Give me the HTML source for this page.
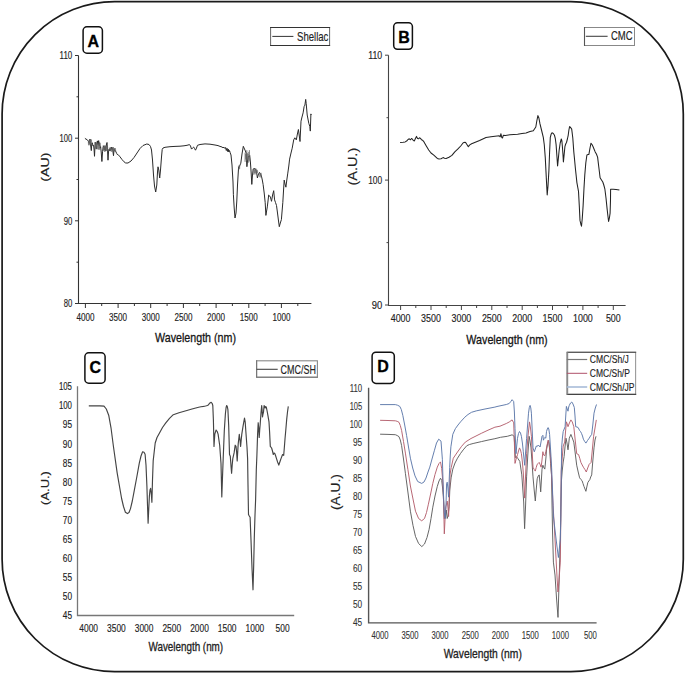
<!DOCTYPE html>
<html><head><meta charset="utf-8"><title>FTIR spectra</title>
<style>
html,body{margin:0;padding:0;background:#fff;}
svg{display:block;font-family:"Liberation Sans", sans-serif;}
</style></head>
<body>
<svg width="685" height="674" viewBox="0 0 685 674">
<rect width="685" height="674" fill="#fff"/>
<rect x="2.1" y="1.6" width="681.2" height="670.1" rx="112.5" ry="112.5" fill="none" stroke="#1a1a1a" stroke-width="1.7"/>
<rect x="83.1" y="26.8" width="19.3" height="26.4" rx="3.8" ry="3.8" fill="#fff" stroke="#111" stroke-width="1.5"/>
<text x="93.4" y="46.6" font-size="16" font-weight="bold" text-anchor="middle" fill="#000" stroke="#000" stroke-width="0.3">A</text>
<rect x="393.7" y="22.8" width="18.7" height="26.5" rx="3.8" ry="3.8" fill="#fff" stroke="#111" stroke-width="1.5"/>
<text x="404.1" y="43.0" font-size="16" font-weight="bold" text-anchor="middle" fill="#000" stroke="#000" stroke-width="0.3">B</text>
<rect x="84.9" y="352.8" width="20.2" height="30.4" rx="3.8" ry="3.8" fill="#fff" stroke="#111" stroke-width="1.5"/>
<text x="95.2" y="373.1" font-size="16" font-weight="bold" text-anchor="middle" fill="#000" stroke="#000" stroke-width="0.3">C</text>
<rect x="372.1" y="352.2" width="22.2" height="31.2" rx="3.8" ry="3.8" fill="#fff" stroke="#111" stroke-width="1.5"/>
<text x="383.1" y="372.4" font-size="16" font-weight="bold" text-anchor="middle" fill="#000" stroke="#000" stroke-width="0.3">D</text>
<path d="M78.5,55.5 V303.5 H311.4" fill="none" stroke="#333" stroke-width="1.1"/>
<path d="M75.0,55.5H78.5M75.0,138.2H78.5M75.0,220.8H78.5M75.0,303.5H78.5M76.5,96.8H78.5M76.5,179.5H78.5M76.5,262.2H78.5M85.4,303.5V308.0M118.1,303.5V308.0M150.7,303.5V308.0M183.4,303.5V308.0M216.1,303.5V308.0M248.8,303.5V308.0M281.4,303.5V308.0M101.7,303.5V306.0M134.4,303.5V306.0M167.1,303.5V306.0M199.7,303.5V306.0M232.4,303.5V306.0M265.1,303.5V306.0M297.8,303.5V306.0" stroke="#333" stroke-width="1"/>
<text x="72.3" y="59.2" font-size="10.4" text-anchor="end" fill="#222" stroke="#222" stroke-width="0.15" font-weight="normal" textLength="12.7" lengthAdjust="spacingAndGlyphs">110</text>
<text x="72.3" y="141.9" font-size="10.4" text-anchor="end" fill="#222" stroke="#222" stroke-width="0.15" font-weight="normal" textLength="12.7" lengthAdjust="spacingAndGlyphs">100</text>
<text x="72.3" y="224.5" font-size="10.4" text-anchor="end" fill="#222" stroke="#222" stroke-width="0.15" font-weight="normal" textLength="8.6" lengthAdjust="spacingAndGlyphs">90</text>
<text x="72.3" y="307.2" font-size="10.4" text-anchor="end" fill="#222" stroke="#222" stroke-width="0.15" font-weight="normal" textLength="8.6" lengthAdjust="spacingAndGlyphs">80</text>
<text x="85.4" y="321" font-size="11.3" text-anchor="middle" fill="#222" stroke="#222" stroke-width="0.15" font-weight="normal" textLength="18" lengthAdjust="spacingAndGlyphs">4000</text>
<text x="118.1" y="321" font-size="11.3" text-anchor="middle" fill="#222" stroke="#222" stroke-width="0.15" font-weight="normal" textLength="18" lengthAdjust="spacingAndGlyphs">3500</text>
<text x="150.7" y="321" font-size="11.3" text-anchor="middle" fill="#222" stroke="#222" stroke-width="0.15" font-weight="normal" textLength="18" lengthAdjust="spacingAndGlyphs">3000</text>
<text x="183.4" y="321" font-size="11.3" text-anchor="middle" fill="#222" stroke="#222" stroke-width="0.15" font-weight="normal" textLength="18" lengthAdjust="spacingAndGlyphs">2500</text>
<text x="216.1" y="321" font-size="11.3" text-anchor="middle" fill="#222" stroke="#222" stroke-width="0.15" font-weight="normal" textLength="18" lengthAdjust="spacingAndGlyphs">2000</text>
<text x="248.8" y="321" font-size="11.3" text-anchor="middle" fill="#222" stroke="#222" stroke-width="0.15" font-weight="normal" textLength="18" lengthAdjust="spacingAndGlyphs">1500</text>
<text x="281.4" y="321" font-size="11.3" text-anchor="middle" fill="#222" stroke="#222" stroke-width="0.15" font-weight="normal" textLength="18" lengthAdjust="spacingAndGlyphs">1000</text>
<text x="195.5" y="342.4" font-size="12.8" text-anchor="middle" fill="#151515" stroke="#151515" stroke-width="0.3" font-weight="normal" textLength="81" lengthAdjust="spacingAndGlyphs">Wavelength (nm)</text>
<text transform="translate(48.6,167.2) rotate(-90)" x="0" y="0" font-size="11.3" text-anchor="middle" fill="#222" stroke="#222" stroke-width="0.15" textLength="29.2" lengthAdjust="spacingAndGlyphs">(AU)</text>
<rect x="270.6" y="27.5" width="59" height="18" fill="#fff" stroke="#666" stroke-width="1"/>
<path d="M270.1,27.5H330.1M270.1,45.5H330.1" stroke="#333" stroke-width="1.1"/>
<path d="M272.3,36.4H293.4" stroke="#333" stroke-width="1"/>
<text x="297" y="41" font-size="12.8" text-anchor="start" fill="#222" stroke="#222" stroke-width="0.15" font-weight="normal" textLength="31.4" lengthAdjust="spacingAndGlyphs">Shellac</text>
<path d="M388.5,55.2 V305.5 H625.6" fill="none" stroke="#444" stroke-width="1.1"/>
<path d="M385.0,55.2H388.5M385.0,180.1H388.5M385.0,305.0H388.5M386.5,117.7H388.5M386.5,242.6H388.5M400.6,305.5V310.0M431.0,305.5V310.0M461.4,305.5V310.0M491.8,305.5V310.0M522.2,305.5V310.0M552.5,305.5V310.0M582.9,305.5V310.0M613.3,305.5V310.0M415.8,305.5V308.0M446.2,305.5V308.0M476.6,305.5V308.0M507.0,305.5V308.0M537.4,305.5V308.0M567.7,305.5V308.0M598.1,305.5V308.0" stroke="#444" stroke-width="1"/>
<text x="382.2" y="59.2" font-size="11.2" text-anchor="end" fill="#222" stroke="#222" stroke-width="0.15" font-weight="normal" textLength="14" lengthAdjust="spacingAndGlyphs">110</text>
<text x="382.2" y="184.1" font-size="11.2" text-anchor="end" fill="#222" stroke="#222" stroke-width="0.15" font-weight="normal" textLength="14" lengthAdjust="spacingAndGlyphs">100</text>
<text x="382.2" y="309.0" font-size="11.2" text-anchor="end" fill="#222" stroke="#222" stroke-width="0.15" font-weight="normal" textLength="10.5" lengthAdjust="spacingAndGlyphs">90</text>
<text x="400.6" y="322.4" font-size="11.4" text-anchor="middle" fill="#222" stroke="#222" stroke-width="0.15" font-weight="normal" textLength="19.8" lengthAdjust="spacingAndGlyphs">4000</text>
<text x="431.0" y="322.4" font-size="11.4" text-anchor="middle" fill="#222" stroke="#222" stroke-width="0.15" font-weight="normal" textLength="19.8" lengthAdjust="spacingAndGlyphs">3500</text>
<text x="461.4" y="322.4" font-size="11.4" text-anchor="middle" fill="#222" stroke="#222" stroke-width="0.15" font-weight="normal" textLength="19.8" lengthAdjust="spacingAndGlyphs">3000</text>
<text x="491.8" y="322.4" font-size="11.4" text-anchor="middle" fill="#222" stroke="#222" stroke-width="0.15" font-weight="normal" textLength="19.8" lengthAdjust="spacingAndGlyphs">2500</text>
<text x="522.2" y="322.4" font-size="11.4" text-anchor="middle" fill="#222" stroke="#222" stroke-width="0.15" font-weight="normal" textLength="19.8" lengthAdjust="spacingAndGlyphs">2000</text>
<text x="552.5" y="322.4" font-size="11.4" text-anchor="middle" fill="#222" stroke="#222" stroke-width="0.15" font-weight="normal" textLength="19.8" lengthAdjust="spacingAndGlyphs">1500</text>
<text x="582.9" y="322.4" font-size="11.4" text-anchor="middle" fill="#222" stroke="#222" stroke-width="0.15" font-weight="normal" textLength="19.8" lengthAdjust="spacingAndGlyphs">1000</text>
<text x="613.3" y="322.4" font-size="11.4" text-anchor="middle" fill="#222" stroke="#222" stroke-width="0.15" font-weight="normal" textLength="14.8" lengthAdjust="spacingAndGlyphs">500</text>
<text x="507" y="343.6" font-size="13" text-anchor="middle" fill="#151515" stroke="#151515" stroke-width="0.3" font-weight="normal" textLength="81.4" lengthAdjust="spacingAndGlyphs">Wavelength (nm)</text>
<text transform="translate(356.5,166.7) rotate(-90)" font-size="12.3" text-anchor="middle" fill="#222" stroke="#222" stroke-width="0.15" textLength="37.8" lengthAdjust="spacingAndGlyphs">(A.U.)</text>
<rect x="584.5" y="27.5" width="50" height="18" fill="#fff" stroke="#888" stroke-width="1"/>
<path d="M584.5,27V46" stroke="#555" stroke-width="1.1"/>
<path d="M585.8,36.3H607.6" stroke="#444" stroke-width="1.1"/>
<text x="610.9" y="40.1" font-size="12.4" text-anchor="start" fill="#222" stroke="#222" stroke-width="0.15" font-weight="normal" textLength="21.6" lengthAdjust="spacingAndGlyphs">CMC</text>
<path d="M77.5,386.2 V615.5 H294.2" fill="none" stroke="#777" stroke-width="1.3"/>
<text x="72" y="390.2" font-size="10.6" text-anchor="end" fill="#222" stroke="#222" stroke-width="0.15" font-weight="normal" textLength="13.1" lengthAdjust="spacingAndGlyphs">105</text>
<text x="72" y="409.3" font-size="10.6" text-anchor="end" fill="#222" stroke="#222" stroke-width="0.15" font-weight="normal" textLength="13.1" lengthAdjust="spacingAndGlyphs">100</text>
<text x="72" y="428.4" font-size="10.6" text-anchor="end" fill="#222" stroke="#222" stroke-width="0.15" font-weight="normal" textLength="9.2" lengthAdjust="spacingAndGlyphs">95</text>
<text x="72" y="447.5" font-size="10.6" text-anchor="end" fill="#222" stroke="#222" stroke-width="0.15" font-weight="normal" textLength="9.2" lengthAdjust="spacingAndGlyphs">90</text>
<text x="72" y="466.6" font-size="10.6" text-anchor="end" fill="#222" stroke="#222" stroke-width="0.15" font-weight="normal" textLength="9.2" lengthAdjust="spacingAndGlyphs">85</text>
<text x="72" y="485.7" font-size="10.6" text-anchor="end" fill="#222" stroke="#222" stroke-width="0.15" font-weight="normal" textLength="9.2" lengthAdjust="spacingAndGlyphs">80</text>
<text x="72" y="504.8" font-size="10.6" text-anchor="end" fill="#222" stroke="#222" stroke-width="0.15" font-weight="normal" textLength="9.2" lengthAdjust="spacingAndGlyphs">75</text>
<text x="72" y="523.9" font-size="10.6" text-anchor="end" fill="#222" stroke="#222" stroke-width="0.15" font-weight="normal" textLength="9.2" lengthAdjust="spacingAndGlyphs">70</text>
<text x="72" y="543.0" font-size="10.6" text-anchor="end" fill="#222" stroke="#222" stroke-width="0.15" font-weight="normal" textLength="9.2" lengthAdjust="spacingAndGlyphs">65</text>
<text x="72" y="562.1" font-size="10.6" text-anchor="end" fill="#222" stroke="#222" stroke-width="0.15" font-weight="normal" textLength="9.2" lengthAdjust="spacingAndGlyphs">60</text>
<text x="72" y="581.2" font-size="10.6" text-anchor="end" fill="#222" stroke="#222" stroke-width="0.15" font-weight="normal" textLength="9.2" lengthAdjust="spacingAndGlyphs">55</text>
<text x="72" y="600.3" font-size="10.6" text-anchor="end" fill="#222" stroke="#222" stroke-width="0.15" font-weight="normal" textLength="9.2" lengthAdjust="spacingAndGlyphs">50</text>
<text x="72" y="619.4" font-size="10.6" text-anchor="end" fill="#222" stroke="#222" stroke-width="0.15" font-weight="normal" textLength="9.2" lengthAdjust="spacingAndGlyphs">45</text>
<text x="88.7" y="631.9" font-size="10.8" text-anchor="middle" fill="#222" stroke="#222" stroke-width="0.15" font-weight="normal" textLength="18.7" lengthAdjust="spacingAndGlyphs">4000</text>
<text x="116.4" y="631.9" font-size="10.8" text-anchor="middle" fill="#222" stroke="#222" stroke-width="0.15" font-weight="normal" textLength="18.7" lengthAdjust="spacingAndGlyphs">3500</text>
<text x="144.1" y="631.9" font-size="10.8" text-anchor="middle" fill="#222" stroke="#222" stroke-width="0.15" font-weight="normal" textLength="18.7" lengthAdjust="spacingAndGlyphs">3000</text>
<text x="171.8" y="631.9" font-size="10.8" text-anchor="middle" fill="#222" stroke="#222" stroke-width="0.15" font-weight="normal" textLength="18.7" lengthAdjust="spacingAndGlyphs">2500</text>
<text x="199.5" y="631.9" font-size="10.8" text-anchor="middle" fill="#222" stroke="#222" stroke-width="0.15" font-weight="normal" textLength="18.7" lengthAdjust="spacingAndGlyphs">2000</text>
<text x="227.2" y="631.9" font-size="10.8" text-anchor="middle" fill="#222" stroke="#222" stroke-width="0.15" font-weight="normal" textLength="18.7" lengthAdjust="spacingAndGlyphs">1500</text>
<text x="254.9" y="631.9" font-size="10.8" text-anchor="middle" fill="#222" stroke="#222" stroke-width="0.15" font-weight="normal" textLength="18.7" lengthAdjust="spacingAndGlyphs">1000</text>
<text x="282.6" y="631.9" font-size="10.8" text-anchor="middle" fill="#222" stroke="#222" stroke-width="0.15" font-weight="normal" textLength="14" lengthAdjust="spacingAndGlyphs">500</text>
<text x="185.8" y="651.4" font-size="12.4" text-anchor="middle" fill="#222" stroke="#222" stroke-width="0.3" font-weight="normal" textLength="74.6" lengthAdjust="spacingAndGlyphs">Wavelength (nm)</text>
<text transform="translate(48.9,488) rotate(-90)" font-size="11.4" text-anchor="middle" fill="#222" stroke="#222" stroke-width="0.15" textLength="33.8" lengthAdjust="spacingAndGlyphs">(A.U.)</text>
<rect x="256.6" y="360.8" width="60.8" height="16.4" fill="#fff" stroke="#888" stroke-width="1.1"/>
<path d="M256.6,360.3V377.7M256.1,377.2H317.9" stroke="#777" stroke-width="1.1"/>
<path d="M256.6,369.3H277.7" stroke="#444" stroke-width="1.1"/>
<text x="280.6" y="373.5" font-size="12.6" text-anchor="start" fill="#222" stroke="#222" stroke-width="0.15" font-weight="normal" textLength="35.4" lengthAdjust="spacingAndGlyphs">CMC/SH</text>
<path d="M368.6,387.7 V622.9 H596.6" fill="none" stroke="#555" stroke-width="1.4"/>
<text x="362.2" y="391.6" font-size="10.4" text-anchor="end" fill="#333" stroke="#333" stroke-width="0.1" font-weight="normal" textLength="12.5" lengthAdjust="spacingAndGlyphs">110</text>
<text x="362.2" y="409.7" font-size="10.4" text-anchor="end" fill="#333" stroke="#333" stroke-width="0.1" font-weight="normal" textLength="12.5" lengthAdjust="spacingAndGlyphs">105</text>
<text x="362.2" y="427.7" font-size="10.4" text-anchor="end" fill="#333" stroke="#333" stroke-width="0.1" font-weight="normal" textLength="12.5" lengthAdjust="spacingAndGlyphs">100</text>
<text x="362.2" y="445.8" font-size="10.4" text-anchor="end" fill="#333" stroke="#333" stroke-width="0.1" font-weight="normal" textLength="9.2" lengthAdjust="spacingAndGlyphs">95</text>
<text x="362.2" y="463.8" font-size="10.4" text-anchor="end" fill="#333" stroke="#333" stroke-width="0.1" font-weight="normal" textLength="9.2" lengthAdjust="spacingAndGlyphs">90</text>
<text x="362.2" y="481.9" font-size="10.4" text-anchor="end" fill="#333" stroke="#333" stroke-width="0.1" font-weight="normal" textLength="9.2" lengthAdjust="spacingAndGlyphs">85</text>
<text x="362.2" y="500.0" font-size="10.4" text-anchor="end" fill="#333" stroke="#333" stroke-width="0.1" font-weight="normal" textLength="9.2" lengthAdjust="spacingAndGlyphs">80</text>
<text x="362.2" y="518.0" font-size="10.4" text-anchor="end" fill="#333" stroke="#333" stroke-width="0.1" font-weight="normal" textLength="9.2" lengthAdjust="spacingAndGlyphs">75</text>
<text x="362.2" y="536.1" font-size="10.4" text-anchor="end" fill="#333" stroke="#333" stroke-width="0.1" font-weight="normal" textLength="9.2" lengthAdjust="spacingAndGlyphs">70</text>
<text x="362.2" y="554.1" font-size="10.4" text-anchor="end" fill="#333" stroke="#333" stroke-width="0.1" font-weight="normal" textLength="9.2" lengthAdjust="spacingAndGlyphs">65</text>
<text x="362.2" y="572.2" font-size="10.4" text-anchor="end" fill="#333" stroke="#333" stroke-width="0.1" font-weight="normal" textLength="9.2" lengthAdjust="spacingAndGlyphs">60</text>
<text x="362.2" y="590.3" font-size="10.4" text-anchor="end" fill="#333" stroke="#333" stroke-width="0.1" font-weight="normal" textLength="9.2" lengthAdjust="spacingAndGlyphs">55</text>
<text x="362.2" y="608.3" font-size="10.4" text-anchor="end" fill="#333" stroke="#333" stroke-width="0.1" font-weight="normal" textLength="9.2" lengthAdjust="spacingAndGlyphs">50</text>
<text x="362.2" y="626.4" font-size="10.4" text-anchor="end" fill="#333" stroke="#333" stroke-width="0.1" font-weight="normal" textLength="9.2" lengthAdjust="spacingAndGlyphs">45</text>
<text x="380.0" y="639.2" font-size="10.8" text-anchor="middle" fill="#333" stroke="#333" stroke-width="0.1" font-weight="normal" textLength="17.1" lengthAdjust="spacingAndGlyphs">4000</text>
<text x="410.1" y="639.2" font-size="10.8" text-anchor="middle" fill="#333" stroke="#333" stroke-width="0.1" font-weight="normal" textLength="17.1" lengthAdjust="spacingAndGlyphs">3500</text>
<text x="440.1" y="639.2" font-size="10.8" text-anchor="middle" fill="#333" stroke="#333" stroke-width="0.1" font-weight="normal" textLength="17.1" lengthAdjust="spacingAndGlyphs">3000</text>
<text x="470.2" y="639.2" font-size="10.8" text-anchor="middle" fill="#333" stroke="#333" stroke-width="0.1" font-weight="normal" textLength="17.1" lengthAdjust="spacingAndGlyphs">2500</text>
<text x="500.2" y="639.2" font-size="10.8" text-anchor="middle" fill="#333" stroke="#333" stroke-width="0.1" font-weight="normal" textLength="17.1" lengthAdjust="spacingAndGlyphs">2000</text>
<text x="530.3" y="639.2" font-size="10.8" text-anchor="middle" fill="#333" stroke="#333" stroke-width="0.1" font-weight="normal" textLength="17.1" lengthAdjust="spacingAndGlyphs">1500</text>
<text x="560.4" y="639.2" font-size="10.8" text-anchor="middle" fill="#333" stroke="#333" stroke-width="0.1" font-weight="normal" textLength="17.1" lengthAdjust="spacingAndGlyphs">1000</text>
<text x="590.4" y="639.2" font-size="10.8" text-anchor="middle" fill="#333" stroke="#333" stroke-width="0.1" font-weight="normal" textLength="13" lengthAdjust="spacingAndGlyphs">500</text>
<text x="482.8" y="658" font-size="12.6" text-anchor="middle" fill="#222" stroke="#222" stroke-width="0.3" font-weight="normal" textLength="78.2" lengthAdjust="spacingAndGlyphs">Wavelength (nm)</text>
<text transform="translate(340,492.1) rotate(-90)" font-size="12" text-anchor="middle" fill="#222" stroke="#222" stroke-width="0.15" textLength="36" lengthAdjust="spacingAndGlyphs">(A.U.)</text>
<rect x="567.2" y="352.3" width="68.4" height="42.1" fill="#fff" stroke="#999" stroke-width="1.1"/>
<path d="M566.7,352.3H636.2M566.7,394.4H636.2" stroke="#444" stroke-width="1.1"/>
<path d="M567.3,352.3V394.4" stroke="#8a8a8a" stroke-width="1.8"/>
<path d="M566.8,359.5H587.2" stroke="#777" stroke-width="1.2"/>
<path d="M566.8,373.3H587.2" stroke="#b0506a" stroke-width="1"/>
<path d="M566.8,387H587.2" stroke="#a8bcd8" stroke-width="1.6"/>
<text x="589.8" y="363.4" font-size="11.2" text-anchor="start" fill="#222" stroke="#222" stroke-width="0.15" font-weight="normal" textLength="39.1" lengthAdjust="spacingAndGlyphs">CMC/Sh/J</text>
<text x="589.8" y="376.9" font-size="11.2" text-anchor="start" fill="#222" stroke="#222" stroke-width="0.15" font-weight="normal" textLength="40.1" lengthAdjust="spacingAndGlyphs">CMC/Sh/P</text>
<text x="589.8" y="391" font-size="11.2" text-anchor="start" fill="#222" stroke="#222" stroke-width="0.15" font-weight="normal" textLength="44.7" lengthAdjust="spacingAndGlyphs">CMC/Sh/JP</text>
<polyline points="84.9,138.3 86.0,139.2 87.1,139.6 88.4,141.2 89.2,143.5 90.0,139.0 90.6,145.0 91.3,150.6 91.8,143.0 92.3,142.8 93.0,146.0 93.6,145.4 94.1,150.0 94.5,156.3 95.2,142.2 95.8,145.4 96.3,149.0 96.8,143.0 97.4,140.9 98.0,145.0 98.7,140.6 99.2,146.0 99.7,142.8 100.2,148.0 100.6,146.7 101.2,152.0 101.9,161.5 102.6,151.2 103.2,147.0 103.8,145.7 104.3,150.0 105.1,146.4 105.7,151.0 106.3,145.0 107.0,142.5 107.5,150.0 108.0,160.2 108.5,152.0 109.0,149.3 109.5,151.0 109.9,148.6 110.5,150.5 111.2,147.0 111.8,149.5 112.5,147.7 113.0,152.0 113.5,155.7 114.1,148.6 114.7,151.0 115.4,150.6 116.0,152.0 116.7,153.5 117.3,154.5 118.0,154.5 120.0,156.8 122.0,159.5 124.0,161.8 125.7,163.0 128.0,163.0 131.0,161.0 134.0,157.5 137.0,153.0 140.0,148.5 143.0,145.5 146.8,144.0 149.0,144.5 150.5,146.5 151.5,150.0 152.5,160.0 153.5,175.0 154.5,186.0 155.7,192.0 156.8,185.0 157.5,172.0 158.0,166.8 158.8,170.0 159.7,178.0 160.5,170.0 161.5,157.0 162.2,149.5 163.0,148.0 165.0,147.3 170.0,146.7 175.0,146.4 180.0,146.2 184.0,145.8 187.0,145.3 189.5,144.6 190.5,146.0 191.5,149.1 192.5,148.0 193.6,147.0 194.5,148.5 195.5,150.2 196.5,148.0 197.5,145.3 200.0,144.5 205.0,143.9 210.0,144.2 215.0,145.0 218.0,145.6 220.0,146.4 222.0,147.0 223.0,147.8 224.0,147.2 225.0,148.5 225.6,147.5 226.3,150.5 227.0,148.2 227.6,151.5 228.2,149.0 228.8,152.0 229.5,150.5 230.2,152.8 231.0,155.0 232.0,165.0 233.0,182.0 233.4,194.7 234.2,208.0 235.0,218.0 236.0,213.0 236.8,201.0 237.5,185.0 238.6,166.8 239.1,167.4 240.0,165.0 240.8,163.2 242.0,154.0 243.3,146.3 244.5,149.0 245.4,151.0 246.2,153.3 246.9,166.7 247.6,160.0 248.3,156.2 249.0,157.0 249.7,155.5 250.4,162.0 251.1,172.0 251.8,184.4 252.5,175.0 253.2,168.9 253.9,169.0 254.6,168.1 255.3,169.0 256.0,170.3 256.7,173.0 257.4,178.0 258.5,174.0 259.6,172.4 260.5,174.0 261.4,175.9 262.3,180.0 263.1,184.4 264.2,193.0 265.2,202.7 265.9,215.4 266.6,211.0 267.3,206.9 268.0,201.0 268.7,195.0 269.5,195.8 270.4,197.1 271.0,199.5 271.5,201.3 272.6,195.0 273.7,190.7 274.2,196.0 274.6,199.9 275.5,202.5 276.5,205.5 277.5,213.0 278.4,220.0 279.3,226.7 280.3,223.0 281.4,219.6 282.1,211.0 282.8,202.7 283.5,191.0 284.2,180.1 285.0,184.0 285.9,187.2 286.8,180.0 287.8,173.1 288.8,166.0 289.6,159.1 291.0,153.0 292.2,148.2 293.7,139.9 294.8,137.8 296.3,139.9 297.4,134.0 298.4,129.5 299.3,136.0 300.0,141.5 301.0,121.2 302.0,117.0 303.1,112.9 304.1,106.6 304.9,105.1 305.7,99.4 306.2,103.5 307.2,115.0 308.8,123.3 309.8,126.4 310.3,131.1 310.7,120.0 310.9,113.9 311.2,115.0" fill="none" stroke="#2a2a2a" stroke-width="1.0" stroke-linejoin="round"/>
<polyline points="400.1,142.5 403.0,142.3 405.2,141.9 407.0,140.8 408.0,139.5 409.3,138.8 410.5,139.8 411.5,138.5 412.4,139.2 413.4,140.5 414.4,140.9 415.4,138.5 416.5,136.4 417.5,138.5 418.5,138.8 419.5,137.8 420.5,138.4 421.5,139.8 422.5,140.2 423.6,141.3 426.0,145.5 428.7,150.0 431.0,153.0 433.8,155.2 437.3,158.4 439.0,158.9 441.0,158.7 443.1,157.6 444.5,158.2 446.1,158.4 449.0,157.2 451.9,155.4 454.8,151.8 457.7,149.2 460.7,146.0 463.2,142.7 465.0,142.2 465.8,142.7 466.9,144.5 468.3,146.7 469.8,144.9 471.6,143.8 475.3,142.3 479.6,140.5 486.0,137.5 491.0,136.8 495.0,136.2 499.2,135.8 500.2,136.8 500.9,133.7 501.8,137.5 502.5,138.0 503.3,135.3 505.4,135.4 510.0,134.8 517.6,134.3 522.0,133.6 526.0,133.0 530.0,131.6 533.3,130.7 535.8,127.0 536.8,121.0 537.9,115.6 538.9,118.0 540.0,123.9 541.5,130.0 543.3,137.4 544.3,145.0 545.3,158.1 546.3,178.0 547.2,195.0 548.0,186.0 548.9,170.6 549.6,152.0 550.3,137.4 551.2,134.0 552.0,132.8 553.3,133.5 554.5,135.3 555.3,138.5 556.1,144.6 556.9,156.0 557.6,166.0 558.4,158.0 559.2,149.8 560.2,143.0 561.3,139.0 561.9,141.0 562.4,146.7 563.0,155.0 563.4,161.9 564.2,154.0 564.9,146.7 565.7,144.0 566.5,142.5 567.4,139.0 568.2,135.3 568.9,130.0 569.6,126.6 570.6,127.5 571.7,129.1 572.8,138.0 573.8,151.9 574.6,160.0 575.4,168.5 576.2,176.0 576.9,182.6 577.7,187.0 578.5,191.3 579.3,206.0 580.0,220.4 580.8,224.0 581.5,226.2 582.3,218.0 583.1,205.9 584.0,188.0 584.8,174.7 585.8,163.0 586.9,155.0 588.0,154.6 588.9,154.4 590.0,148.0 591.0,143.2 592.0,144.5 593.1,146.7 594.2,149.5 595.2,151.9 596.4,154.0 597.6,157.1 598.8,167.0 600.1,177.8 601.5,180.0 602.8,182.0 603.8,185.0 604.9,189.2 606.0,198.0 607.0,207.9 607.8,215.0 608.6,221.4 609.4,218.0 610.1,213.1 610.5,200.0 610.6,189.2 613.2,189.2 616.0,189.4 619.4,189.9" fill="none" stroke="#222" stroke-width="1.05" stroke-linejoin="round"/>
<polyline points="88.8,405.9 95.0,405.8 100.0,405.9 104.0,406.1 106.3,409.0 108.7,415.2 111.0,427.8 113.3,445.5 117.2,473.2 121.6,498.5 123.5,506.5 125.4,512.3 127.4,513.6 129.0,512.5 130.5,508.6 132.3,501.0 134.2,490.9 136.8,477.0 139.3,463.2 141.0,456.0 142.6,451.8 144.0,452.3 145.1,454.3 146.0,465.0 146.9,485.9 147.5,505.0 148.1,523.2 148.8,508.0 149.4,496.0 150.0,490.0 150.6,488.4 151.3,494.0 151.9,502.3 152.5,480.0 153.2,460.6 155.2,443.0 157.0,437.5 159.5,432.9 162.5,427.5 165.8,422.8 169.5,418.3 173.3,414.7 179.0,412.7 186.0,410.7 192.0,409.0 198.6,407.2 201.0,406.7 203.6,406.4 205.5,406.0 207.4,405.5 208.3,405.0 209.5,403.3 211.2,402.3 212.2,403.5 212.8,405.5 213.4,420.0 214.0,446.4 214.8,434.1 216.1,430.0 217.2,431.5 218.1,434.1 219.7,445.5 221.0,463.5 221.8,497.0 222.4,480.0 223.0,463.5 224.3,430.8 225.4,413.7 226.1,407.5 226.7,405.5 227.3,406.5 227.9,409.6 228.7,425.9 229.5,454.5 230.3,456.2 231.0,466.0 231.6,473.3 232.2,465.0 232.8,458.6 234.1,452.9 235.2,445.2 236.0,446.4 236.6,452.0 237.2,461.0 237.7,452.0 238.2,443.9 239.3,434.4 240.0,440.0 240.6,446.4 241.2,440.0 241.8,434.1 243.1,425.9 244.5,418.1 245.2,422.0 245.8,430.8 247.0,447.2 247.6,458.6 248.0,485.0 248.5,514.4 249.3,516.0 250.1,517.3 251.0,540.0 252.0,568.0 253.0,589.8 253.7,565.0 254.3,537.6 255.0,515.0 255.6,500.0 256.3,470.0 256.9,455.3 257.6,434.1 258.2,422.7 258.7,428.0 259.2,437.4 259.7,430.0 260.2,424.3 261.0,412.9 261.7,405.5 262.1,410.0 262.5,417.0 263.0,414.0 263.5,412.1 264.1,405.5 264.6,407.0 265.1,408.0 265.7,406.5 266.3,407.2 267.1,411.0 267.9,415.3 269.0,421.9 269.6,432.0 270.3,446.4 271.6,448.0 272.5,451.0 273.3,454.5 274.1,453.0 274.9,453.7 275.7,456.0 276.5,458.6 277.6,462.0 278.8,465.1 280.0,461.5 281.0,458.6 282.0,456.0 282.6,454.5 283.7,455.3 284.3,448.0 285.0,439.0 285.8,430.0 286.7,419.4 287.5,412.0 288.3,406.3" fill="none" stroke="#444" stroke-width="1.15" stroke-linejoin="round"/>
<polyline points="380.1,434.2 388.0,434.4 395.3,434.7 397.2,435.5 399.0,436.7 400.3,440.0 401.6,445.6 403.5,459.0 405.4,473.3 407.9,492.0 410.4,511.2 413.0,525.5 415.5,536.5 418.6,543.5 421.8,546.6 424.5,544.0 427.0,537.5 429.1,529.4 431.0,518.5 432.8,507.2 435.0,496.0 437.3,486.4 439.0,481.0 440.5,478.2 441.7,480.4 442.6,488.0 443.4,497.0 444.3,518.5 445.3,517.5 446.3,510.0 447.2,518.5 448.0,516.0 449.1,506.9 449.8,490.0 451.1,477.9 452.8,469.1 455.0,463.0 457.5,458.2 460.5,453.5 463.2,449.9 466.8,445.7 469.5,444.5 473.1,443.5 481.4,441.6 488.0,440.1 494.9,438.7 500.5,437.3 507.3,436.3 510.0,435.5 512.1,434.8 514.1,436.3 514.8,447.0 515.4,457.6 516.4,456.6 517.9,458.5 519.8,461.4 521.8,474.9 523.7,502.0 524.6,528.7 525.6,505.0 526.6,476.9 527.8,455.0 529.1,436.3 530.0,441.0 531.0,447.9 532.0,462.0 533.0,476.9 534.2,490.0 535.3,501.0 536.2,490.0 537.2,478.8 538.2,476.0 539.2,474.9 540.0,483.0 540.7,491.9 541.4,480.0 542.0,469.2 542.9,465.2 543.5,467.0 544.8,469.1 546.0,457.0 546.5,449.8 547.7,443.1 548.7,440.5 549.7,450.0 550.6,463.3 551.5,475.0 552.5,530.0 553.4,562.1 555.0,575.0 556.5,598.0 558.0,617.4 559.0,585.0 560.3,539.0 561.0,500.0 561.5,480.0 562.2,471.0 563.2,462.0 564.1,456.6 565.0,447.0 566.0,438.2 567.0,443.0 568.0,449.8 568.7,444.0 569.3,438.2 570.9,434.4 572.3,438.0 573.8,442.1 575.2,453.0 576.7,465.2 578.2,472.0 579.6,477.8 580.9,479.5 582.1,480.7 583.0,483.5 584.0,486.5 585.0,489.0 585.9,491.3 586.8,487.0 587.8,482.6 588.8,481.0 589.8,479.7 590.7,477.0 591.7,474.9 592.8,461.0 594.0,447.9 595.0,440.0 596.0,436.3" fill="none" stroke="#5e5e5e" stroke-width="0.95" stroke-linejoin="round"/>
<polyline points="380.1,420.3 388.0,420.5 395.3,420.8 397.2,421.3 399.0,422.3 400.3,425.5 401.6,430.4 403.5,441.5 405.4,453.1 407.9,469.5 410.4,486.0 413.0,499.0 415.5,511.2 418.6,518.5 421.7,520.8 424.5,518.5 426.5,512.5 428.4,504.2 430.6,494.0 432.8,483.4 435.0,474.5 437.3,467.1 439.0,463.5 440.5,461.9 441.7,468.6 442.5,478.0 443.2,489.3 443.8,510.0 444.3,533.9 445.0,520.0 445.8,506.9 447.2,501.1 448.0,508.0 448.6,516.5 449.4,495.0 450.1,474.1 451.2,467.6 453.3,458.2 457.5,452.0 461.6,446.3 465.3,442.1 471.0,438.5 476.0,436.0 481.4,433.3 488.0,430.2 494.9,427.2 494.9,427.2 500.0,426.2 506.3,423.5 509.2,422.0 512.1,419.9 513.7,422.8 514.3,440.0 515.0,463.4 516.0,459.5 517.5,454.7 518.5,451.0 519.5,447.9 520.5,450.0 521.4,453.7 522.4,462.0 523.3,473.0 524.7,498.1 525.6,475.0 526.6,453.7 528.0,436.0 529.5,421.9 530.5,428.0 531.4,436.3 532.2,452.0 533.0,467.2 534.2,469.5 535.3,471.1 536.2,467.5 537.2,464.3 538.2,463.5 539.2,462.4 540.1,464.5 541.1,467.2 542.0,460.0 542.9,451.7 543.5,455.0 544.9,455.6 545.8,451.7 546.9,446.0 548.1,440.2 548.8,442.5 549.8,449.0 550.6,457.5 551.8,480.0 553.1,505.8 554.5,530.0 556.0,558.0 557.2,580.0 558.0,592.0 559.0,580.0 560.3,562.1 560.8,520.0 561.2,471.0 562.2,458.0 563.2,446.0 564.7,442.1 565.5,432.0 566.4,421.8 567.2,424.0 568.0,426.7 569.4,423.0 570.9,419.9 572.3,422.0 573.8,426.7 575.2,440.0 576.7,453.7 578.6,454.6 579.8,458.5 580.9,462.4 582.2,465.0 583.4,467.2 584.9,469.5 586.3,472.0 587.7,468.0 589.2,464.3 591.1,462.4 592.3,450.0 593.6,436.3 595.0,428.0 596.3,419.9" fill="none" stroke="#b4606e" stroke-width="0.95" stroke-linejoin="round"/>
<polyline points="380.1,404.6 388.0,404.6 395.3,404.6 397.5,405.2 399.8,406.4 401.3,409.5 402.8,415.3 404.7,425.0 406.6,435.5 408.5,447.0 410.4,458.2 412.7,468.0 415.0,475.9 417.7,481.5 421.7,483.4 424.0,482.0 426.0,478.0 428.0,472.0 429.8,467.1 432.0,459.0 434.3,450.8 436.5,443.0 438.7,439.2 441.0,441.1 442.4,459.7 442.4,460.0 443.3,490.0 444.3,512.7 445.3,518.5 446.0,505.0 446.6,483.7 447.2,482.2 447.9,488.0 448.6,497.2 449.2,480.0 449.7,467.6 450.3,455.0 450.9,446.8 452.8,434.3 455.4,428.6 458.0,425.0 460.6,421.8 464.8,417.2 468.0,414.5 471.5,412.3 476.2,410.9 485.0,409.0 494.9,407.1 497.0,406.5 506.3,404.5 509.2,403.5 510.8,401.5 512.1,399.7 513.7,401.6 514.4,412.0 515.0,428.6 516.0,453.7 516.8,445.0 517.5,438.3 518.5,433.5 519.5,431.5 520.5,433.0 521.4,436.3 522.4,443.0 523.3,451.8 524.7,465.3 525.6,452.0 526.6,438.3 527.6,425.0 528.5,413.2 529.3,407.5 530.1,405.4 530.8,408.0 531.4,413.2 532.2,430.0 533.0,447.9 534.3,451.8 535.3,449.0 536.3,446.0 537.2,446.5 538.2,445.0 539.2,446.0 540.1,447.0 541.0,442.0 542.0,436.3 542.9,435.3 543.4,440.2 544.2,438.5 544.9,437.3 545.8,438.2 546.5,431.5 547.3,429.0 548.1,427.6 548.8,429.0 549.6,434.4 550.6,450.0 551.6,467.2 552.5,490.0 553.4,516.0 555.0,530.0 556.8,545.0 558.4,557.5 559.4,548.0 560.3,539.0 560.8,520.0 561.6,447.9 562.4,438.0 563.2,431.5 564.2,429.0 565.1,426.7 565.8,415.0 566.4,406.4 567.2,409.0 568.0,411.2 568.7,407.0 569.3,405.4 570.5,403.0 571.8,402.0 573.0,404.0 574.3,407.4 575.0,416.0 575.7,426.7 577.0,427.0 578.2,427.6 579.6,430.5 580.5,431.5 581.5,433.4 582.5,436.0 583.4,439.2 584.7,441.5 585.9,443.1 587.5,440.5 589.2,438.2 590.5,436.0 591.7,434.4 592.8,425.0 594.0,413.2 595.3,408.0 596.5,404.5" fill="none" stroke="#5d78aa" stroke-width="0.95" stroke-linejoin="round"/>
<polyline points="88.2,140.2 88.5,145.2 88.9,140.9 89.2,145.3 89.5,140.6 89.8,144.7 90.2,139.6 90.5,144.4 90.8,139.6 91.2,144.6 91.5,139.6 91.8,145.3" fill="none" stroke="#666" stroke-width="0.5" stroke-linejoin="round"/>
<polyline points="95.2,143.2 95.5,147.7 95.9,142.3 96.2,149.4 96.5,143.8 96.8,147.3 97.2,143.6 97.5,148.9 97.8,144.7 98.2,149.9 98.5,144.4 98.8,149.2 99.2,142.4 99.5,149.7 99.8,142.9 100.1,147.7" fill="none" stroke="#666" stroke-width="0.5" stroke-linejoin="round"/>
<polyline points="103.0,145.4 103.3,150.6 103.7,146.6 104.0,151.1 104.3,146.3 104.6,151.8 105.0,145.1 105.3,151.5 105.6,146.7 106.0,151.0 106.3,145.8 106.6,150.6 107.0,146.1 107.3,151.3 107.6,146.9 107.9,150.3" fill="none" stroke="#666" stroke-width="0.5" stroke-linejoin="round"/>
<polyline points="109.5,147.4 109.8,151.0 110.2,147.9 110.5,150.5 110.8,148.3 111.1,151.5 111.5,148.7 111.8,151.8 112.1,147.7 112.5,150.7 112.8,147.3 113.1,151.1 113.5,147.1 113.8,150.8 114.1,148.3 114.4,151.0 114.8,148.5 115.1,151.5 115.4,148.2 115.8,151.0" fill="none" stroke="#666" stroke-width="0.5" stroke-linejoin="round"/>
<polyline points="244.8,152.8 245.1,161.8 245.5,154.1 245.8,159.4 246.1,152.3 246.5,160.7 246.8,150.3 247.1,160.6 247.4,153.2 247.8,159.1 248.1,154.0 248.4,162.6 248.8,151.9 249.1,160.7 249.4,150.1 249.8,161.7" fill="none" stroke="#666" stroke-width="0.5" stroke-linejoin="round"/>
<polyline points="253.5,168.9 253.8,174.7 254.2,168.6 254.5,173.3 254.8,168.8 255.2,174.4 255.5,169.4 255.8,173.0 256.1,168.7 256.5,174.0 256.8,169.7 257.1,173.0 257.5,170.4 257.8,173.0" fill="none" stroke="#666" stroke-width="0.5" stroke-linejoin="round"/>
<polyline points="259.5,173.0 259.8,177.2 260.2,173.2 260.5,176.3 260.8,174.3 261.1,177.7 261.5,172.8" fill="none" stroke="#666" stroke-width="0.5" stroke-linejoin="round"/>
<polyline points="238.6,165.4 238.9,169.6 239.3,165.8 239.6,169.0 239.9,165.5" fill="none" stroke="#666" stroke-width="0.5" stroke-linejoin="round"/>
</svg>
</body></html>
